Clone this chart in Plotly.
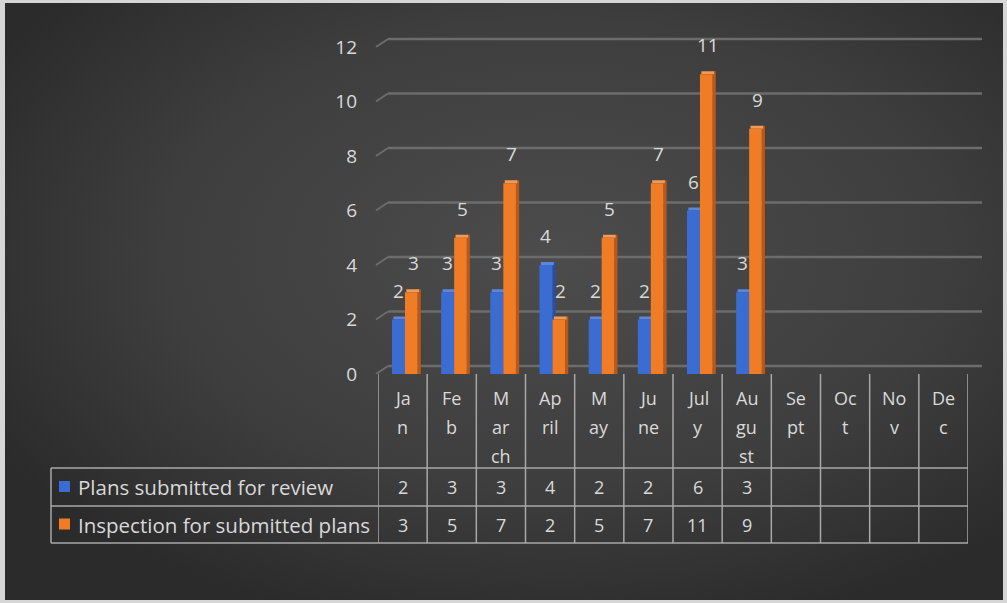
import base64
import plotly.graph_objects as go

# ---------------- data ----------------
months = ["Jan", "Feb", "March", "April", "May", "June", "July", "August",
          "Sept", "Oct", "Nov", "Dec"]
header_labels = ["Ja\nn", "Fe\nb", "M\nar\nch", "Ap\nril", "M\nay", "Ju\nne",
                 "Jul\ny", "Au\ngu\nst", "Se\npt", "Oc\nt", "No\nv", "De\nc"]
plans_submitted = [2, 3, 3, 4, 2, 2, 6, 3, None, None, None, None]
inspections = [3, 5, 7, 2, 5, 7, 11, 9, None, None, None, None]
series_names = ["Plans submitted for review", "Inspection for submitted plans"]
y_ticks = [0, 2, 4, 6, 8, 10, 12]

# ---------------- styling ----------------
W, H = 1007, 603
FONT = "Open Sans"
TXT = "#d9d9d9"
LINE = "#a8a8a8"
GRID = "#6c6c6c"
BLUE, BLUE_SIDE, BLUE_TOP = "#3b6cd2", "#2a4f9e", "#5b87e0"
ORANGE, ORANGE_SIDE, ORANGE_TOP = "#f07c26", "#b8581a", "#f59a55"

PX0, PX1 = 378, 968          # x extent of the category columns (px)
PY0, PY12 = 374, 47          # y pixel of value 0 and value 12 (front plane)
U = (PX1 - PX0) / 12.0       # px per category
V = (PY0 - PY12) / 12.0      # px per value unit
YMAX = 12 + 20 / V           # extra headroom so shapes are not clipped
PYTOP = PY0 - YMAX * V


def px(x):
    return x / W


def py(y):
    return 1 - y / H


x = list(range(len(months)))

fig = go.Figure()

# background gradient image
svg = (
    '<svg xmlns="http://www.w3.org/2000/svg" width="1000" height="600" preserveAspectRatio="none">'
    '<defs><radialGradient id="g" cx="0.55" cy="0.42" r="0.65">'
    '<stop offset="0" stop-color="#4c4c4c"/><stop offset="0.6" stop-color="#3e3e3e"/>'
    '<stop offset="1" stop-color="#2b2b2b"/></radialGradient></defs>'
    '<rect width="1000" height="600" fill="url(#g)"/></svg>'
)
uri = "data:image/svg+xml;base64," + base64.b64encode(svg.encode()).decode()

# ---------------- bars (side, top, front) ----------------
side_h = 3 / V
top_h = 3 / V


def add_bar(vals, offset_px, width_px, color, base=None, name=None):
    fig.add_trace(go.Bar(
        x=x, y=vals, base=base, offset=offset_px / U, width=width_px / U,
        marker=dict(color=color, line=dict(width=0)),
        showlegend=False, hoverinfo="skip", name=name,
    ))


bvals = plans_submitted
ovals = inspections
# blue
add_bar([v + side_h if v is not None else None for v in bvals], 2.4, 3.2, BLUE_SIDE)
add_bar([top_h if v is not None else None for v in bvals], -9.2, 13.0, BLUE_TOP, base=[v if v is not None else 0 for v in bvals])
add_bar(bvals, -10.6, 13.0, BLUE, name=series_names[0])
# orange
add_bar([v + side_h if v is not None else None for v in ovals], 15.0, 3.2, ORANGE_SIDE)
add_bar([top_h if v is not None else None for v in ovals], 3.8, 12.6, ORANGE_TOP, base=[v if v is not None else 0 for v in ovals])
add_bar(ovals, 2.4, 12.6, ORANGE, name=series_names[1])

annotations = []
shapes = []

# data labels
for i, v in enumerate(bvals):
    if v is not None:
        annotations.append(dict(x=i + (-4.1) / U, y=v, xref="x", yref="y", text=str(v),
                                showarrow=False, yshift=29,
                                font=dict(family=FONT, size=19, color=TXT)))
for i, v in enumerate(ovals):
    if v is not None:
        annotations.append(dict(x=i + 10.5 / U, y=v, xref="x", yref="y", text=str(v),
                                showarrow=False, yshift=29,
                                font=dict(family=FONT, size=19, color=TXT)))

# gridlines with 3D kink
back = 8 / V
for t in y_ticks:
    shapes.append(dict(type="line", xref="paper", yref="y", x0=px(376), x1=px(388),
                       y0=t, y1=t + back, line=dict(color=GRID, width=2), layer="below"))
    shapes.append(dict(type="line", xref="paper", yref="y", x0=px(388), x1=px(982),
                       y0=t + back, y1=t + back, line=dict(color=GRID, width=2.5), layer="below"))

# ---------------- data table ----------------
ROW0, ROW1, ROW2, ROW3 = 374, 468, 506, 543
for k in range(len(months) + 1):
    xb = k - 0.5
    shapes.append(dict(type="line", xref="x", yref="paper", x0=xb, x1=xb,
                       y0=py(ROW0), y1=py(ROW3), line=dict(color=LINE, width=1.5)))
shapes.append(dict(type="line", xref="paper", yref="paper", x0=px(51), x1=px(51),
                   y0=py(ROW1), y1=py(ROW3), line=dict(color=LINE, width=1.5)))
for yy in (ROW1, ROW2, ROW3):
    shapes.append(dict(type="line", xref="paper", yref="paper", x0=px(51), x1=px(PX1),
                       y0=py(yy), y1=py(yy), line=dict(color=LINE, width=1.5)))

# header labels (wrapped month names)
for i, lab in enumerate(header_labels):
    for j, part in enumerate(lab.split("\n")):
        annotations.append(dict(x=i, y=py(398 + 29 * j), xref="x", yref="paper",
                                text=part, showarrow=False, yanchor="middle",
                                font=dict(family=FONT, size=18, color=TXT)))

# table values
row_centers = [(ROW1 + ROW2) / 2, (ROW2 + ROW3) / 2]
for r, vals in enumerate([bvals, ovals]):
    for i, v in enumerate(vals):
        if v is not None:
            annotations.append(dict(x=i, y=py(row_centers[r]), xref="x", yref="paper",
                                    text=str(v), showarrow=False, yanchor="middle",
                                    font=dict(family=FONT, size=18, color=TXT)))

# legend keys + series names
for r, (name, col) in enumerate(zip(series_names, [BLUE, ORANGE])):
    yc = row_centers[r]
    shapes.append(dict(type="rect", xref="paper", yref="paper", x0=px(59), x1=px(70),
                       y0=py(yc - 6), y1=py(yc + 5), fillcolor=col, line=dict(width=0)))
    annotations.append(dict(x=px(76), y=py(yc), xref="paper", yref="paper", text=name,
                            showarrow=False, xanchor="left", yanchor="middle",
                            font=dict(family=FONT, size=20.5, color=TXT)))

fig.update_layout(
    width=W, height=H,
    margin=dict(l=0, r=0, t=0, b=0, pad=0),
    paper_bgcolor="#d6d6d6",
    plot_bgcolor="rgba(0,0,0,0)",
    barmode="overlay",
    showlegend=False,
    images=[dict(source=uri, xref="paper", yref="paper", x=px(5), y=py(3),
                 sizex=px(1003) - px(5), sizey=py(3) - py(600),
                 xanchor="left", yanchor="top", sizing="stretch", layer="below")],
    xaxis=dict(domain=[px(PX0), px(PX1)], range=[-0.5, len(months) - 0.5],
               showticklabels=False, showgrid=False, zeroline=False, showline=False,
               automargin=False, fixedrange=True),
    yaxis=dict(domain=[py(PY0), py(PYTOP)], range=[0, YMAX], tickvals=y_ticks,
               showgrid=False, zeroline=False, showline=False, ticks="",
               ticklabelstandoff=20, automargin=False,
               tickfont=dict(family=FONT, size=19, color=TXT), fixedrange=True),
    shapes=shapes,
    annotations=annotations,
)

fig.write_html("out.html", config={"displayModeBar": False},
               post_script="document.body.style.margin='0';document.body.style.overflow='hidden';")
